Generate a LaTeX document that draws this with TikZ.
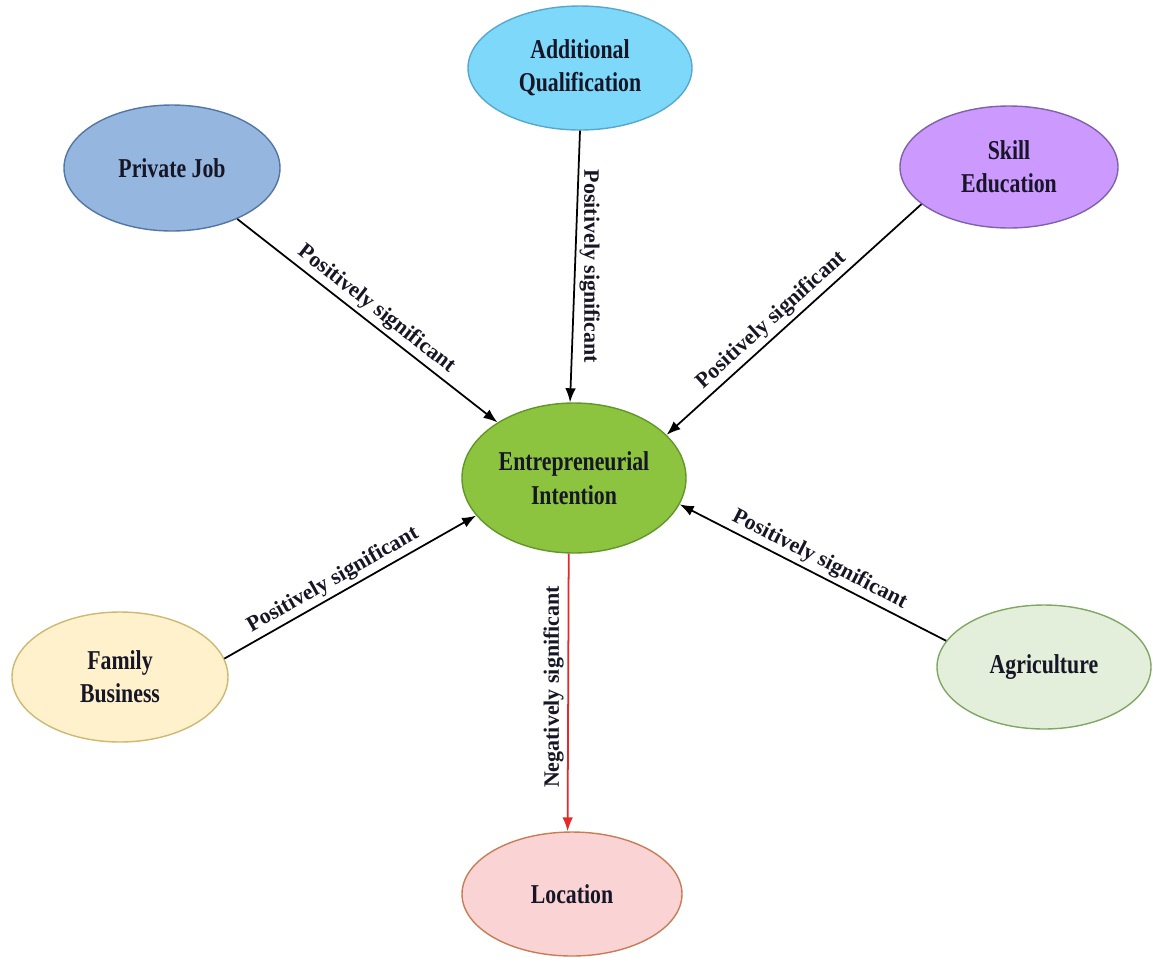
\documentclass[tikz,border=0pt]{standalone}
\usepackage{fontspec}
\setmainfont{Liberation Serif}
\newfontfamily\nodefont[FakeStretch=0.8]{Liberation Serif}
\usepackage{xcolor}
\usepackage{tikz}
\usetikzlibrary{shapes.geometric, arrows.meta, positioning}

\definecolor{pjfill}{RGB}{149,182,222}
\definecolor{pjdraw}{RGB}{84,118,165}
\definecolor{aqfill}{RGB}{125,216,250}
\definecolor{aqdraw}{RGB}{88,168,205}
\definecolor{sefill}{RGB}{204,153,255}
\definecolor{sedraw}{RGB}{128,98,170}
\definecolor{eifill}{RGB}{141,196,63}
\definecolor{eidraw}{RGB}{98,150,42}
\definecolor{fbfill}{RGB}{255,241,204}
\definecolor{fbdraw}{RGB}{205,185,115}
\definecolor{agfill}{RGB}{227,239,218}
\definecolor{agdraw}{RGB}{128,168,100}
\definecolor{locfill}{RGB}{250,212,212}
\definecolor{locdraw}{RGB}{200,125,85}
\definecolor{negline}{RGB}{232,40,40}
\definecolor{labtext}{RGB}{22,22,38}

\begin{document}
\begin{tikzpicture}[auto]
    \tikzstyle{factor} = [ellipse, draw, line width=0.8pt, inner sep=0pt, align=center, text=labtext, font=\nodefont\bfseries\fontsize{15.5}{19}\selectfont]
    \tikzstyle{line} = [draw, -{Latex[length=8pt,width=6pt]}, line width=1pt]
    \tikzstyle{effect} = [font=\bfseries\fontsize{12.5}{14}\selectfont, text=labtext, inner sep=2pt]

    \useasboundingbox (0,0) rectangle (23.06,-19.36);

    \node [factor, fill=eifill, draw=eidraw, minimum width=4.48cm, minimum height=3cm] (ei) at (11.48,-9.56) {Entrepreneurial\\Intention};
    \node [factor, fill=pjfill, draw=pjdraw, minimum width=4.32cm, minimum height=2.52cm, above of=ei, xshift=-8.04cm, node distance=6.2cm] (pj) {Private Job};
    \node [factor, fill=aqfill, draw=aqdraw, minimum width=4.48cm, minimum height=2.48cm, above of=ei, xshift=0.12cm, node distance=8.2cm] (aq) {Additional\\Qualification};
    \node [factor, fill=sefill, draw=sedraw, minimum width=4.36cm, minimum height=2.44cm, above of=ei, xshift=8.7cm, node distance=6.22cm] (se) {Skill\\Education};
    \node [factor, fill=fbfill, draw=fbdraw, minimum width=4.32cm, minimum height=2.6cm, below of=ei, xshift=-9.08cm, node distance=3.98cm] (fb) {Family\\Business};
    \node [factor, fill=agfill, draw=agdraw, minimum width=4.28cm, minimum height=2.48cm, below of=ei, xshift=9.4cm, node distance=3.78cm] (ag) {Agriculture};
    \node [factor, fill=locfill, draw=locdraw, minimum width=4.4cm, minimum height=2.48cm, below of=ei, xshift=-0.04cm, node distance=8.32cm] (loc) {Location};

    \path [line] (pj.-38.7) -- node [effect, sloped, above, pos=0.5] {Positively significant} (ei.144);
    \path [line] (aq.-90) -- node [effect, rotate=-90, anchor=south, pos=0.5] {Positively significant} (ei.93);
    \path [line] (se.203) -- node [effect, sloped, above, pos=0.55] {Positively significant} (ei.25.6);
    \path [line] (fb.10.5) -- node [effect, sloped, above, pos=0.46] {Positively significant} (ei.201);
    \path [line] (ag.165) -- node [effect, sloped, above, pos=0.5] {Positively significant} (ei.-14);
    \path [line, draw=negline, -{Latex[length=8pt,width=6pt]}] (ei.-94) -- node [effect, rotate=90, anchor=south, pos=0.48] {Negatively significant} (loc.94);
\end{tikzpicture}
\end{document}
